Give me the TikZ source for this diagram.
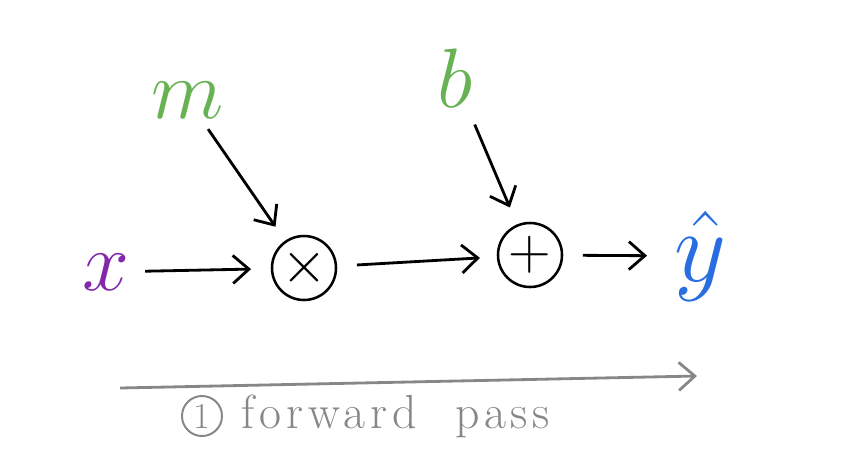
\RequirePackage{fix-cm}
\documentclass[tikz,border=0pt]{standalone}
\usepackage{amsmath,amssymb}
\usepackage{fontspec}
\usepackage{xcolor}
\usepackage{tikz}
\usetikzlibrary{arrows.meta, positioning, calc}
\newfontfamily\passfont[LetterSpace=10]{Latin Modern Roman}
\definecolor{inpurple}{RGB}{130,40,170}
\definecolor{paramgreen}{RGB}{104,178,84}
\definecolor{outblue}{RGB}{40,110,225}
\definecolor{passgray}{RGB}{135,135,135}

\begin{document}
\begin{tikzpicture}[
    x=0.025cm, y=-0.025cm,
    every node/.style={font=\fontsize{30}{30}\selectfont},
    op/.style={circle, draw, line width=1.8pt, minimum size=1.6cm, inner sep=0pt, font=\fontsize{42}{42}\selectfont},
    sym/.style={font=\fontsize{60}{60}\selectfont, inner sep=1pt},
    arrow/.style={-{Straight Barb[length=4mm, width=7mm]}, line width=2pt}
]
\useasboundingbox (0,0) rectangle (842,470);

\node[sym, text=inpurple] (x) at (106,272) {$x$};
\node[sym, text=paramgreen] (m) at (188,100) {$m$};
\node[sym, text=paramgreen] (b) at (455,78) {$b$};

\node[op] (mul) at (304,268) {$\times$};
\node[op] (add) at (530,255) {$+$};

\node[sym, text=outblue, font=\fontsize{72}{72}\selectfont] (yhat) at (700,256) {$\hat{y}$};

\draw[arrow, shorten <=10pt, shorten >=14pt] (x) -- (mul);
\draw[arrow, shorten <=8pt, shorten >=12pt] (m) -- (mul);
\draw[arrow, shorten <=14pt, shorten >=12pt] (mul) -- (add);
\draw[arrow, shorten <=12pt, shorten >=13pt] (b) -- (add);
\draw[arrow, shorten <=14pt, shorten >=18pt] (add) -- (yhat);

% direction of the pass
\coordinate (passL) at (120,388);
\coordinate (passR) at (697,376);
\draw[arrow, passgray] (passL) -- (passR);

\node[circle, draw=passgray, line width=1.4pt, text=passgray, inner sep=0pt, minimum size=1cm, font=\fontsize{26}{26}\selectfont] (num) at (202,416) {1};
\node[right=0.35cm of num, text=passgray, font=\passfont\fontsize{34}{34}\selectfont] (fwd) {forward\hspace{0.4em} pass};

\end{tikzpicture}
\end{document}
